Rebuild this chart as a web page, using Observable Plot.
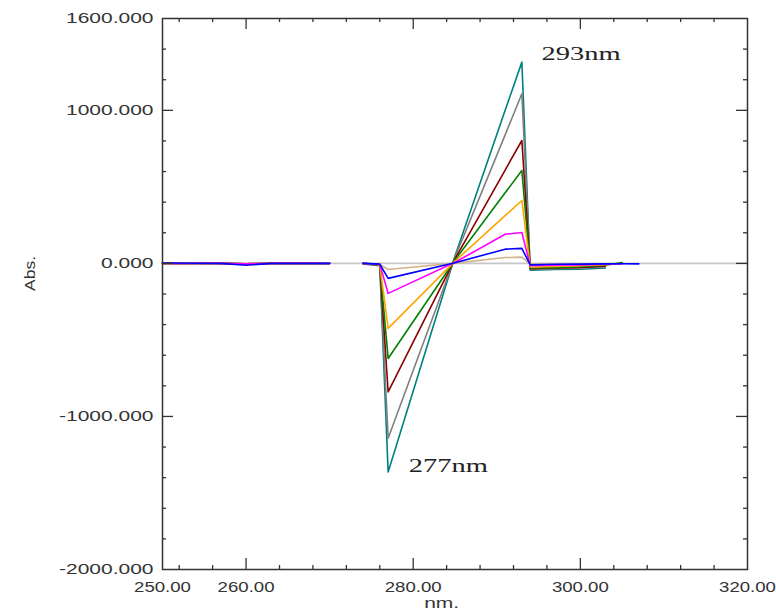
<!DOCTYPE html>
<html>
<head>
<meta charset="utf-8">
<script src="https://cdn.jsdelivr.net/npm/d3@7"></script>
<script src="https://cdn.jsdelivr.net/npm/@observablehq/plot@0.6"></script>
<style>
  html, body { margin: 0; padding: 0; background: #fff; }
  #chart { width: 776px; height: 611px; }
</style>
</head>
<body>
<div id="chart"></div>
<script>
// Wavelengths (nm) at which the derivative spectra are read
const wavelengths = [250, 254, 257, 260, 263, 266, 270, 272, 274, 276, 277, 285, 291, 293, 294, 297, 300, 303, 305, 307];

// Series (drawing order: smallest first, blue drawn last)
const seriesNames  = ["tan", "teal", "gray", "darkred", "green", "orange", "magenta", "blue"];
const seriesColors = ["#c9a57a", "#22b0b0", "#9a9a9a", "#8b0a0a", "#117a17", "#ff8224", "#ff44ff", "#2424f0"];

const tanValues     = [0, 0, 2, -2, 0, 0, 1, null, 0, -6, -40, 2, 38, 41, -5, -4, -3, -2, 0, null];
const tealValues    = [2, 4, 0, -4, 0, 0, 0, null, -4, -15, -1363, 48, 1000, 1315, -45, -40, -38, -30, null, null];
const grayValues    = [0, 0, 1, -3, 2, 1, 0, null, 0, -12, -1143, 40, 840, 1108, -40, -35, -30, -20, null, null];
const darkredValues = [0, 0, 0, -3, 0, 0, 0, null, 0, -10, -840, 29, 610, 803, -35, -30, -27, -18, null, null];
const greenValues   = [0, 0, 0, -3, 0, 0, 0, null, 0, -9, -621, 22, 461, 607, -30, -28, -22, -12, 6, null];
const orangeValues  = [0, 0, 0, -3, 0, 0, 2, null, 0, -8, -425, 15, 312, 411, -25, -20, -15, -8, -2, null];
const magentaValues = [0, 0, 0, -3, 0, 0, 0, null, 0, -6, -196, 7, 190, 202, -15, -12, -10, -6, -2, null];
const blueValues    = [3, 1, 0, -12, 0, 0, 0, null, 0, -5, -98, 4, 93, 98, -10, -6, -5, -3, -2, -3];

const seriesValues = [tanValues, tealValues, grayValues, darkredValues, greenValues, orangeValues, magentaValues, blueValues];

// Axis ticks and labels
const yLabelTicks = [1600, 1000, 0, -1000, -2000];
const yMajorTicks = [1000, 0, -1000];
const yMinorTicks = [1400, 1200, 800, 600, 400, 200, -200, -400, -600, -800, -1200, -1400, -1600, -1800];
const xLabelTicks = [250, 260, 280, 300, 320];
const xMajorTicks = [260, 280, 300];
const xMinorTicks = [252, 256, 264, 268, 272, 276, 284, 288, 292, 296, 304, 308, 312, 316];

// Peak annotations
const annotationWavelengths = [295.35, 279.47];
const annotationValues = [1332, -1363];
const annotationLabels = ["293nm", "277nm"];

const rows = [];
seriesValues.forEach((vals, si) => {
  vals.forEach((v, i) => rows.push({w: wavelengths[i], v: v == null ? NaN : v, s: seriesNames[si]}));
});
const annotations = annotationLabels.map((label, i) => ({w: annotationWavelengths[i], v: annotationValues[i], label}));

const W = 776, H = 611, mL = 162, mR = 29, mT = 18, mB = 42;
const plotW = W - mL - mR, plotH = H - mT - mB;
const axisColor = "#333";
const tickStyle = {stroke: axisColor, strokeWidth: 1.3};

// Inward ticks on all four sides, drawn as short tick marks inset from the frame.
const tickMarks = [];
for (const [ticks, len] of [[yMajorTicks, 11], [yMinorTicks, 4]]) {
  tickMarks.push(Plot.tickY(ticks, {y: d => d, insetRight: plotW - len, ...tickStyle}));
  tickMarks.push(Plot.tickY(ticks, {y: d => d, insetLeft: plotW - len, ...tickStyle}));
}
for (const [ticks, len] of [[xMajorTicks, 11], [xMinorTicks, 4]]) {
  tickMarks.push(Plot.tickX(ticks, {x: d => d, insetTop: plotH - len, ...tickStyle}));
  tickMarks.push(Plot.tickX(ticks, {x: d => d, insetBottom: plotH - len, ...tickStyle}));
}

const plot = Plot.plot({
  width: W,
  height: H,
  marginLeft: mL,
  marginRight: mR,
  marginTop: mT,
  marginBottom: mB,
  x: {domain: [250, 320], axis: null, label: null},
  y: {domain: [-2000, 1600], axis: null, label: null},
  color: {domain: seriesNames, range: seriesColors},
  style: {background: "#fff", fontFamily: "'Liberation Sans', Arial, sans-serif", color: "#333"},
  marks: [
    Plot.ruleY([0], {stroke: "#c6c6c6", strokeWidth: 1.6}),
    Plot.line(rows, {x: "w", y: "v", z: "s", stroke: "s", strokeWidth: 1.6}),
    Plot.frame({stroke: axisColor, strokeWidth: 1.5}),
    ...tickMarks,
    Plot.axisY(yLabelTicks, {anchor: "left", tickSize: 0, tickPadding: 9, fontSize: 14, fill: "#333",
      tickFormat: d => d.toFixed(3), label: null}),
    Plot.axisX(xLabelTicks, {anchor: "bottom", tickSize: 0, tickPadding: 13, fontSize: 14, fill: "#333",
      tickFormat: d => d.toFixed(2), label: null}),
    Plot.text(["nm."], {frameAnchor: "bottom", x: 283.4, dy: 34, fontSize: 14, fill: "#333", lineAnchor: "middle"}),
    Plot.text(["Abs."], {frameAnchor: "left", y: -180, dx: -132, rotate: -90, fontSize: 14, fill: "#333",
      lineAnchor: "middle"}),
    Plot.text(annotations, {x: "w", y: "v", text: "label", textAnchor: "start", lineAnchor: "bottom",
      fontSize: 19, fontFamily: "'Liberation Serif', 'Times New Roman', serif", fill: "#222"})
  ]
});

// The reference's lettering is horizontally stretched; widen glyphs in place.
d3.select(plot).selectAll("text").each(function () {
  const s = this.textContent;
  let t = this.getAttribute("transform");
  if (!t) {
    const x = this.getAttribute("x") || 0;
    this.removeAttribute("x");
    t = `translate(${x},0)`;
  }
  if (s === "Abs.") {
    if (!/rotate/.test(t)) t += " rotate(-90)";
    this.setAttribute("transform", `${t} scale(1.25,1)`);
    return;
  }
  const k = /^\d+\.\d\d$/.test(s) ? 1.33 : 1.5;
  this.setAttribute("transform", `${t} scale(${k},1)`);
});

document.getElementById("chart").appendChild(plot);
</script>
</body>
</html>
